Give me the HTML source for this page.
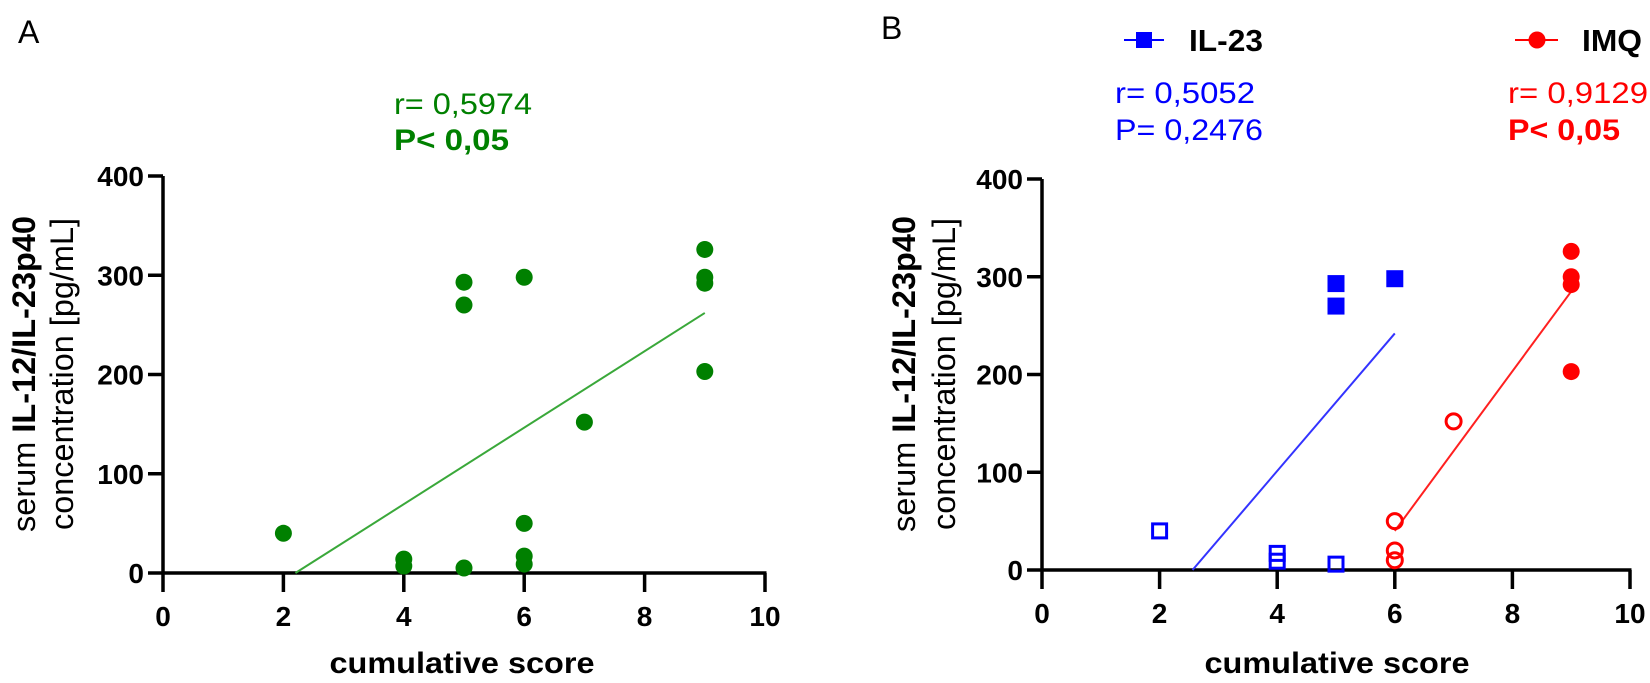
<!DOCTYPE html>
<html><head><meta charset="utf-8"><style>
html,body{margin:0;padding:0;background:#fff;}
svg{display:block;font-family:"Liberation Sans",Arial,sans-serif;}
</style></head><body>
<svg id="chart" width="1650" height="683" viewBox="0 0 1650 683" xmlns="http://www.w3.org/2000/svg">
  <text x="18" y="43" font-size="32">A</text>
  <text x="881" y="39" font-size="32">B</text>
  <text x="394" y="114" font-size="30" fill="#008000" textLength="138" lengthAdjust="spacingAndGlyphs">r= 0,5974</text>
  <text x="394" y="150" font-size="30" font-weight="bold" fill="#008000" textLength="115" lengthAdjust="spacingAndGlyphs">P&lt; 0,05</text>
  <g>
    <line x1="1124" y1="40" x2="1164" y2="40" stroke="#0000ff" stroke-width="2"/>
    <rect x="1136" y="32" width="16" height="16" fill="#0000ff"/>
    <text x="1189" y="51" font-size="31" font-weight="bold" textLength="74" lengthAdjust="spacingAndGlyphs">IL-23</text>
    <line x1="1515" y1="40" x2="1558" y2="40" stroke="#ff0000" stroke-width="2"/>
    <circle cx="1537" cy="40" r="8.5" fill="#ff0000"/>
    <text x="1582" y="51" font-size="31" font-weight="bold" textLength="60" lengthAdjust="spacingAndGlyphs">IMQ</text>
  </g>
  <text x="1115" y="103" font-size="30" fill="#0000ff" textLength="140" lengthAdjust="spacingAndGlyphs">r= 0,5052</text>
  <text x="1115" y="140" font-size="30" fill="#0000ff" textLength="148" lengthAdjust="spacingAndGlyphs">P= 0,2476</text>
  <text x="1508" y="103" font-size="30" fill="#ff0000" textLength="140" lengthAdjust="spacingAndGlyphs">r= 0,9129</text>
  <text x="1508" y="140" font-size="30" font-weight="bold" fill="#ff0000" textLength="112" lengthAdjust="spacingAndGlyphs">P&lt; 0,05</text>
  <g id="plots"></g>
</svg>
<script>
// Panel A data
const aX = [2, 4, 4, 5, 5, 5, 6, 6, 6, 6, 7, 9, 9, 9, 9];
const aY = [40, 14, 7, 5, 293, 270, 298, 50, 17, 9, 152, 326, 298, 292, 203];
const aFitX = [2.2, 9];
const aFitY = [0, 262];
// Panel B IL-23
const il23FilledX = [5, 5, 6];
const il23FilledY = [293, 270, 298];
const il23OpenX = [2, 4, 4, 5];
const il23OpenY = [40, 17, 9, 6];
const il23FitX = [2.56, 6];
const il23FitY = [0, 242];
// Panel B IMQ
const imqFilledX = [9, 9, 9, 9];
const imqFilledY = [326, 300, 292, 203];
const imqOpenX = [7, 6, 6, 6];
const imqOpenY = [152, 50, 20, 10];
const imqFitX = [6, 9];
const imqFitY = [40, 285];
// Ticks
const xTicks = [0, 2, 4, 6, 8, 10];
const yTicks = [0, 100, 200, 300, 400];

const NS = "http://www.w3.org/2000/svg";
const root = document.getElementById('plots');
function mk(tag, attrs, parent) {
  const e = document.createElementNS(NS, tag);
  for (const k in attrs) e.setAttribute(k, attrs[k]);
  (parent || root).appendChild(e);
  return e;
}

function panel(id, x0, x10, y0, y400, yTitleX1, yTitleX2, xTitleX) {
  const sx = v => x0 + (x10 - x0) * v / 10;
  const sy = v => y0 + (y400 - y0) * v / 400;
  const g = mk('g', {});
  
  
  const ya = mk('line', {x1: x0, y1: y0 + 1, x2: x0, y2: sy(400), stroke: '#000', 'stroke-width': 3.5}, g);
  
  
  const xa = mk('line', {x1: x0 - 15, y1: y0, x2: sx(10) + 1.5, y2: y0, stroke: '#000', 'stroke-width': 3.5}, g);
  
  
  xTicks.forEach(t => {
    const l = mk('line', {x1: sx(t), y1: y0, x2: sx(t), y2: y0 + 19, stroke: '#000', 'stroke-width': 3.5}, g);
    
    
    const tx = mk('text', {x: sx(t), y: y0 + 53, 'font-size': 28, 'font-weight': 'bold', 'text-anchor': 'middle'}, g);
    
    
    tx.textContent = t;
  });
  yTicks.forEach(t => {
    if (t > 0) {
      const l = mk('line', {x1: x0 - 15, y1: sy(t), x2: x0, y2: sy(t), stroke: '#000', 'stroke-width': 3.5}, g);
      
      
    }
    const tx = mk('text', {x: x0 - 19, y: sy(t) + 10, 'font-size': 28, 'font-weight': 'bold', 'text-anchor': 'end'}, g);
    
    
    tx.textContent = t;
  });
  const xt = mk('text', {x: xTitleX, y: 673, 'font-size': 30, 'font-weight': 'bold', 'text-anchor': 'middle', textLength: 265, lengthAdjust: 'spacingAndGlyphs'}, g);
  
  
  xt.textContent = 'cumulative score';
  const cy = 374;
  const t1 = mk('text', {x: 0, y: 0, 'font-size': 32, 'text-anchor': 'middle', transform: `translate(${yTitleX1 + 11},${cy}) rotate(-90)`, textLength: 316, lengthAdjust: 'spacingAndGlyphs'}, g);
  
  
  t1.innerHTML = 'serum <tspan font-weight="bold">IL-12/IL-23p40</tspan>';
  const t2 = mk('text', {x: 0, y: 0, 'font-size': 32, 'text-anchor': 'middle', transform: `translate(${yTitleX2 + 11},${cy}) rotate(-90)`, textLength: 312, lengthAdjust: 'spacingAndGlyphs'}, g);
  
  
  t2.textContent = 'concentration [pg/mL]';
  return {g, sx, sy};
}

function fit(p, xs, ys, color, name) {
  const l = mk('line', {x1: p.sx(xs[0]), y1: p.sy(ys[0]), x2: p.sx(xs[1]), y2: p.sy(ys[1]), stroke: color, 'stroke-width': 2}, p.g);
  
  
}
function circles(p, xs, ys, color, open, name) {
  xs.forEach((x, i) => {
    const c = mk('circle', {cx: p.sx(x), cy: p.sy(ys[i]), r: open ? 7.5 : 8.5,
      fill: open ? 'none' : color, stroke: open ? color : 'none', 'stroke-width': 3}, p.g);
    
    
  });
}
function squares(p, xs, ys, color, open, name) {
  xs.forEach((x, i) => {
    const s = open ? 14 : 17;
    const r = mk('rect', {x: p.sx(x) - s / 2, y: p.sy(ys[i]) - s / 2, width: s, height: s,
      fill: open ? 'none' : color, stroke: open ? color : 'none', 'stroke-width': 3}, p.g);
    
    
  });
}

const A = panel('panel-a', 163, 765, 573, 176, 24, 62, 462);
fit(A, aFitX, aFitY, '#3aa83a', 'panel-a-regression-line');
circles(A, aX, aY, '#008000', false, 'panel-a-point');

const B = panel('panel-b', 1042, 1630, 570, 179, 904, 944, 1337);
fit(B, il23FitX, il23FitY, '#3333ff', 'il23-regression-line');
fit(B, imqFitX, imqFitY, '#ff2020', 'imq-regression-line');
squares(B, il23FilledX, il23FilledY, '#0000ff', false, 'il23-point-filled');
squares(B, il23OpenX, il23OpenY, '#0000ff', true, 'il23-point-open');
circles(B, imqFilledX, imqFilledY, '#ff0000', false, 'imq-point-filled');
circles(B, imqOpenX, imqOpenY, '#ff0000', true, 'imq-point-open');
</script>
</body></html>
